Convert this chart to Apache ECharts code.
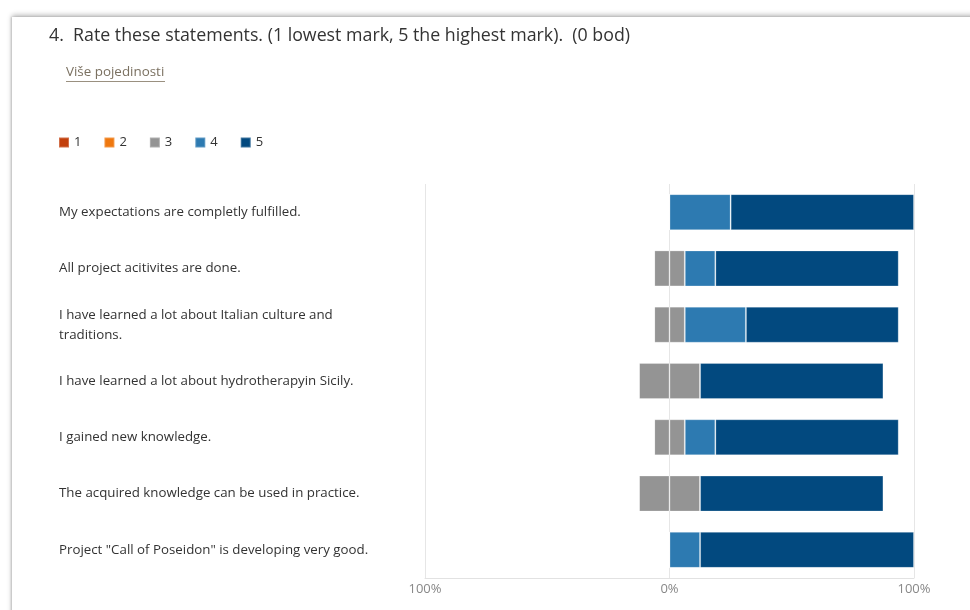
<!DOCTYPE html>
<html>
<head>
<meta charset="utf-8">
<script src="https://cdn.jsdelivr.net/npm/echarts@6/dist/echarts.min.js"></script>
<style>
html,body{margin:0;padding:0;background:#fff;width:970px;height:610px;overflow:hidden;}
#card{position:absolute;left:12px;top:17px;width:1100px;height:800px;background:#fff;box-shadow:0 -2px 5px rgba(0,0,0,0.28),-1px 0 2px rgba(0,0,0,0.15);}
#chart{position:absolute;left:0;top:0;width:970px;height:610px;}
</style>
</head>
<body>
<div id="card"></div>
<div id="chart"></div>
<script>
const titleText = '4.  Rate these statements. (1 lowest mark, 5 the highest mark).  (0 bod)';
const linkText = 'Više pojedinosti';
const categories = [
  'My expectations are completly fulfilled.',
  'All project acitivites are done.',
  'I have learned a lot about Italian culture and traditions.',
  'I have learned a lot about hydrotherapyin Sicily.',
  'I gained new knowledge.',
  'The acquired knowledge can be used in practice.',
  'Project "Call of Poseidon" is developing very good.'
];
const legendNames = ['1', '2', '3', '4', '5'];
const pct1 = [0, 0, 0, 0, 0, 0, 0];
const pct2 = [0, 0, 0, 0, 0, 0, 0];
const pct3 = [0, 12.5, 12.5, 25, 12.5, 25, 0];
const pct4 = [25, 12.5, 25, 0, 12.5, 0, 12.5];
const pct5 = [75, 75, 62.5, 75, 75, 75, 87.5];
const xTicks = [-100, 0, 100];

const colors = {'1':'#c23f0c','2':'#ef780f','3':'#949494','4':'#2d7ab1','5':'#02497f'};
const font = '"Open Sans", "Noto Sans", sans-serif';

function bar(name, data) {
  return {
    name: name, type: 'bar', stack: 'total', data: data,
    barCategoryGap: '36%',
    itemStyle: {color: colors[name], borderColor: 'rgba(255,255,255,0.25)', borderWidth: 1},
    emphasis: {disabled: true}
  };
}

const chart = echarts.init(document.getElementById('chart'));
chart.setOption({
  animation: false,
  textStyle: {fontFamily: font},
  title: {
    text: titleText, left: 44, top: 22,
    textStyle: {fontSize: 17.8, fontWeight: 'normal', color: '#333', fontFamily: font}
  },
  graphic: [
    {type: 'text', left: 66, top: 66, style: {text: linkText, fontSize: 13.4, fill: '#7a7060', fontFamily: font}},
    {type: 'rect', left: 66, top: 81, shape: {width: 99, height: 1}, style: {fill: '#9a9080'}}
  ],
  legend: {
    data: legendNames, left: 53, top: 131, icon: 'rect',
    itemWidth: 10, itemHeight: 10, itemGap: 22, selectedMode: false,
    textStyle: {fontSize: 13, color: '#333', fontFamily: font}
  },
  grid: {left: 425, right: 56, top: 184, bottom: 32, containLabel: false},
  xAxis: {
    type: 'value', min: -100, max: 100, interval: 100,
    axisLine: {show: true, lineStyle: {color: '#e2e2e2'}},
    axisTick: {show: false},
    splitLine: {show: true, lineStyle: {color: '#e6e6e6'}},
    axisLabel: {
      color: '#888', fontSize: 13, margin: 5, fontFamily: font,
      customValues: xTicks,
      formatter: v => Math.abs(v) + '%'
    }
  },
  yAxis: {
    type: 'category', data: categories, inverse: true,
    axisLine: {show: false}, axisTick: {show: false},
    axisLabel: {
      align: 'left', margin: 366, width: 318, overflow: 'break',
      fontSize: 13.3, lineHeight: 20, color: '#333', fontFamily: font
    }
  },
  series: [
    bar('3', pct3.map(v => -v / 2)),
    bar('2', pct2.map(v => -v)),
    bar('1', pct1.map(v => -v)),
    bar('3', pct3.map(v => v / 2)),
    bar('4', pct4),
    bar('5', pct5)
  ]
});
</script>
</body>
</html>
